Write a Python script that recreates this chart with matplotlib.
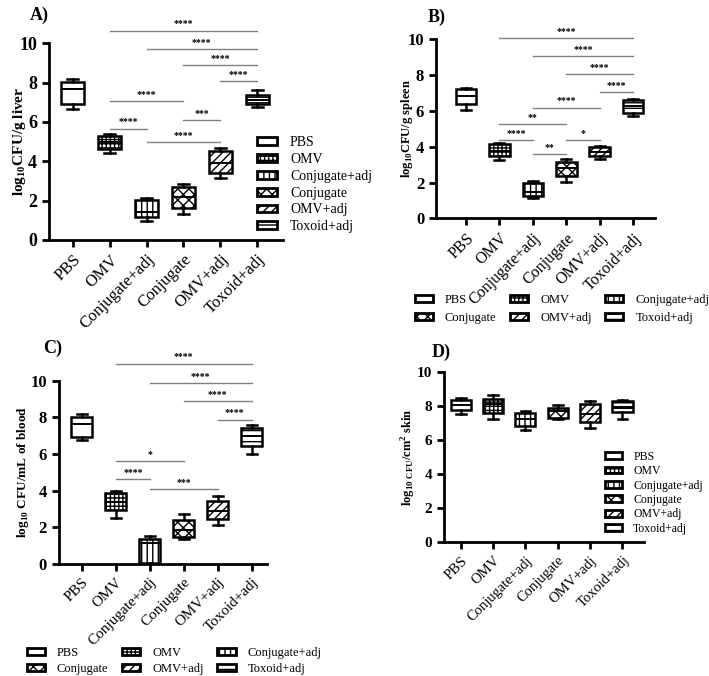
import matplotlib
matplotlib.use('Agg')
import matplotlib.pyplot as plt
from matplotlib.patches import Patch

plt.rcParams['font.family'] = ['Liberation Serif', 'DejaVu Serif']
plt.rcParams['mathtext.fontset'] = 'custom'
plt.rcParams['mathtext.rm'] = 'Liberation Serif'
plt.rcParams['mathtext.bf'] = 'Liberation Serif:bold'
plt.rcParams['hatch.linewidth'] = 1.0

groups = ['PBS', 'OMV', 'Conjugate+adj', 'Conjugate', 'OMV+adj', 'Toxoid+adj']
hatches = ['', '++++', '|||', 'xxx', '////', '---']

# each box: whisker low, q1, median, q3, whisker high
liver = [[6.67, 6.93, 7.69, 8.02, 8.19],
         [4.43, 4.61, 4.98, 5.27, 5.37],
         [0.98, 1.15, 1.44, 2.03, 2.11],
         [1.32, 1.64, 2.20, 2.70, 2.87],
         [3.13, 3.41, 3.89, 4.53, 4.68],
         [6.76, 6.89, 7.13, 7.38, 7.60]]
spleen = [[6.05, 6.39, 6.85, 7.21, 7.30],
          [3.26, 3.48, 3.78, 4.13, 4.19],
          [1.12, 1.25, 1.49, 1.96, 2.10],
          [2.03, 2.38, 2.79, 3.17, 3.31],
          [3.31, 3.46, 3.72, 4.00, 4.06],
          [5.72, 5.87, 6.28, 6.61, 6.69]]
blood = [[6.73, 6.91, 7.65, 8.02, 8.15],
         [2.51, 2.91, 3.35, 3.84, 3.98],
         [0.00, 0.05, 1.15, 1.38, 1.51],
         [1.36, 1.47, 1.87, 2.38, 2.73],
         [2.11, 2.42, 2.87, 3.42, 3.69],
         [6.00, 6.42, 6.96, 7.40, 7.58]]
skin = [[7.54, 7.78, 8.07, 8.37, 8.50],
        [7.28, 7.62, 8.17, 8.46, 8.70],
        [6.59, 6.85, 7.28, 7.64, 7.74],
        [7.28, 7.34, 7.72, 7.93, 8.11],
        [6.75, 7.09, 7.58, 8.17, 8.31],
        [7.28, 7.68, 7.97, 8.31, 8.37]]

# significance bars: group from, group to, bar height, stars
sig_liver = [(1, 5, 10.64, '****'), (2, 5, 9.71, '****'), (3, 5, 8.87, '****'),
             (4, 5, 8.06, '****'), (1, 3, 7.06, '****'), (3, 4, 6.08, '***'),
             (1, 2, 5.66, '****'), (2, 4, 4.98, '****')]
sig_spleen = [(1, 5, 10.07, '****'), (2, 5, 9.07, '****'), (3, 5, 8.04, '****'),
              (4, 5, 7.04, '****'), (2, 4, 6.18, '****'), (1, 3, 5.27, '**'),
              (1, 2, 4.39, '****'), (3, 4, 4.39, '*'), (2, 3, 3.59, '**')]
sig_blood = [(1, 5, 10.93, '****'), (2, 5, 9.87, '****'), (3, 5, 8.87, '****'),
             (4, 5, 7.87, '****'), (1, 3, 5.60, '*'), (1, 2, 4.64, '****'),
             (2, 4, 4.09, '***')]
sig_skin = []

fig = plt.figure(figsize=(7.09, 6.76), dpi=100)


def panel(rect, data, sig, ylabel, letter, letter_pos, xlim, tick_fs, xtick_fs, ylab_fs, ylab_x):
    ax = fig.add_axes(rect)
    stats = []
    for g, v in zip(groups, data):
        stats.append(dict(label=g, whislo=v[0], q1=v[1], med=v[2], q3=v[3], whishi=v[4]))
    pos = list(range(len(groups)))
    b = ax.bxp(stats, positions=pos, widths=0.62, patch_artist=True, showfliers=False,
               boxprops=dict(linewidth=1.8, edgecolor='black'),
               whiskerprops=dict(linewidth=1.8, color='black'),
               capprops=dict(linewidth=1.8, color='black'),
               medianprops=dict(linewidth=1.4, color='black'),
               capwidths=0.3)
    for p, h in zip(b['boxes'], hatches):
        p.set_facecolor('white')
        p.set_hatch(h)
    for i, j, y, s in sig:
        ax.plot([i, j], [y, y], color='#808080', lw=1.0, clip_on=False)
        ax.text((i + j) / 2, y + 0.12, s, ha='center', va='bottom', fontsize=7,
                fontweight='bold', clip_on=False)
    ax.set_ylim(0, 10)
    ax.set_xlim(*xlim)
    ax.set_yticks([0, 2, 4, 6, 8, 10])
    ax.set_xticks(pos)
    ax.set_xticklabels(groups, rotation=45, ha='right', rotation_mode='anchor', fontsize=xtick_fs)
    for t in ax.get_yticklabels():
        t.set_fontweight('bold')
        t.set_fontsize(tick_fs)
    ax.spines['top'].set_visible(False)
    ax.spines['right'].set_visible(False)
    ax.spines['left'].set_linewidth(2)
    ax.spines['bottom'].set_linewidth(2)
    ax.tick_params(width=2, length=5)
    ax.set_ylabel(ylabel, fontsize=ylab_fs, fontweight='bold')
    ax.yaxis.set_label_coords(ylab_x, 0.5)
    ax.text(letter_pos[0], letter_pos[1], letter, transform=ax.transAxes,
            fontsize=13, fontweight='bold')
    return ax


def handles(order):
    return [Patch(facecolor='white', edgecolor='black', linewidth=2.0, hatch=hatches[k],
                  label=groups[k]) for k in order]


def legend(ax, order, anchor, fs, ncol=1, spacing=0.4):
    ax.legend(handles=handles(order), ncol=ncol, loc='upper left', bbox_to_anchor=anchor,
              bbox_transform=fig.transFigure, frameon=False, fontsize=fs,
              borderpad=0, borderaxespad=0, handlelength=1.45, handleheight=0.5,
              labelspacing=spacing, handletextpad=0.95, columnspacing=1.1)


order = [0, 3, 1, 4, 2, 5]

axA = panel([0.069, 0.645, 0.330, 0.291], liver, sig_liver, r'log$_\mathbf{10}$CFU/g liver',
            'A)', (-0.08, 1.12), (-0.65, 5.7), 13, 12, 11, -0.09)
legend(axA, range(6), (0.362, 0.799), 10, spacing=0.28)

axB = panel([0.615, 0.677, 0.309, 0.265], spleen, sig_spleen, r'log$_\mathbf{10}$CFU/g spleen',
            'B)', (-0.037, 1.095), (-0.9, 5.66), 12, 11.5, 9, -0.096)
legend(axB, order, (0.585, 0.565), 9, ncol=3, spacing=0.45)

axC = panel([0.083, 0.166, 0.293, 0.271], blood, sig_blood, r'log$_\mathbf{10}$ CFU/mL of blood',
            'C)', (-0.077, 1.15), (-0.68, 5.44), 12, 11, 9.5, -0.135)
legend(axC, order, (0.038, 0.043), 9, ncol=3, spacing=0.3)

axD = panel([0.626, 0.198, 0.283, 0.251], skin, sig_skin,
            r'log$_\mathbf{10\ CFU}$/cm$^\mathbf{2}$ skin',
            'D)', (-0.06, 1.09), (-0.52, 5.68), 11, 10.5, 9, -0.13)
legend(axD, range(6), (0.853, 0.333), 8.5, spacing=0.2)

fig.savefig('out.png', dpi=100, facecolor='white')
